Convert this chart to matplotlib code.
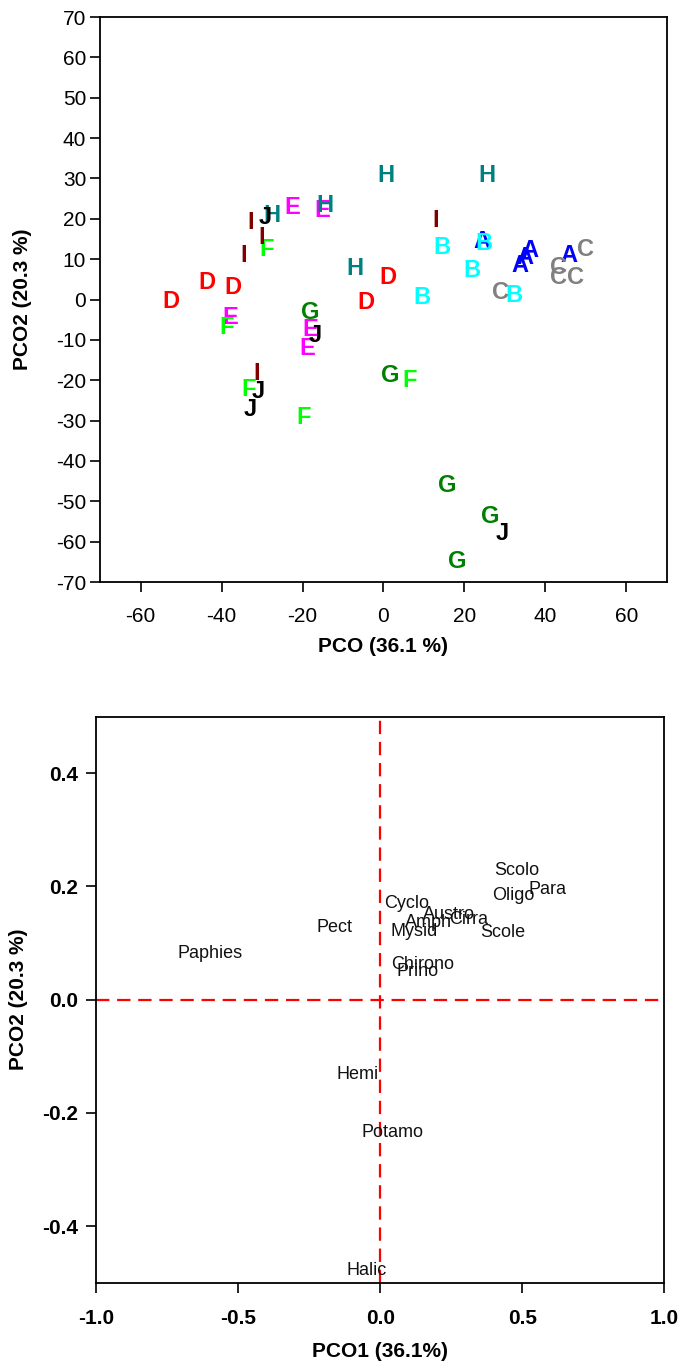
import matplotlib
matplotlib.use('Agg')
import matplotlib.pyplot as plt

plt.rcParams['font.family'] = ['Liberation Sans', 'DejaVu Sans']
plt.rcParams['axes.unicode_minus'] = False

# site scores (top panel)
site_lab = ['A', 'A', 'A', 'A', 'A',
            'B', 'B', 'B', 'B', 'B',
            'C', 'C', 'C', 'C', 'C',
            'D', 'D', 'D', 'D', 'D',
            'E', 'E', 'E', 'E', 'E',
            'F', 'F', 'F', 'F', 'F',
            'G', 'G', 'G', 'G', 'G',
            'H', 'H', 'H', 'H', 'H',
            'I', 'I', 'I', 'I', 'I',
            'J', 'J', 'J', 'J', 'J']
site_x = [24.3, 36.2, 35.0, 33.8, 45.7,
          14.4, 24.7, 21.8, 9.5, 32.3,
          49.8, 43.2, 43.2, 47.3, 28.8,
          -52.5, -43.6, -37.3, 1.2, -4.3,
          -22.6, -15.2, -37.9, -18.1, -18.9,
          -28.8, -38.7, -33.3, -19.8, 6.4,
          -18.1, 1.6, 15.8, 26.3, 18.3,
          -27.6, -14.4, 0.7, 25.5, -7.0,
          -32.7, -30.0, -34.6, 12.8, -31.4,
          -29.2, -16.9, -30.9, -32.9, 29.2]
site_y = [14.8, 12.6, 10.9, 8.9, 11.4,
          13.4, 14.5, 7.7, 1.1, 1.5,
          13.0, 8.5, 6.0, 6.0, 2.3,
          0.0, 4.8, 3.5, 6.0, -0.2,
          23.3, 22.6, -3.9, -6.8, -11.7,
          12.9, -6.4, -21.7, -28.8, -19.5,
          -2.6, -18.3, -45.5, -53.3, -64.4,
          21.3, 23.8, 31.3, 31.3, 8.1,
          19.6, 15.9, 11.4, 20.0, -17.9,
          20.8, -8.4, -22.4, -26.7, -57.4]
group_col = {'A': '#0000ff', 'B': '#00ffff', 'C': '#808080', 'D': '#ff0000',
             'E': '#ff00ff', 'F': '#00ff00', 'G': '#008000', 'H': '#008080',
             'I': '#800000', 'J': '#000000'}

# species vectors (bottom panel)
sp_name = ['Paphies', 'Pect', 'Cyclo', 'Austro', 'Amph', 'Cirra', 'Mysid',
           'Scolo', 'Para', 'Oligo', 'Scole', 'Chirono', 'Prino',
           'Hemi', 'Potamo', 'Halic']
sp_x = [-0.599, -0.161, 0.092, 0.241, 0.170, 0.311, 0.120,
        0.480, 0.587, 0.467, 0.432, 0.150, 0.131,
        -0.079, 0.042, -0.050]
sp_y = [0.081, 0.128, 0.169, 0.150, 0.136, 0.141, 0.121,
        0.229, 0.195, 0.184, 0.119, 0.062, 0.050,
        -0.132, -0.235, -0.479]

fig = plt.figure(figsize=(6.79, 13.65), dpi=100)

ax1 = fig.add_axes([0.1473, 0.5736, 0.835, 0.4139])
for lab, x, y in zip(site_lab, site_x, site_y):
    ax1.text(x, y - 0.5, lab, color=group_col[lab], fontsize=17, fontweight='bold',
             ha='center', va='center')
ax1.set_xlim(-70, 70)
ax1.set_ylim(-70, 70)
ax1.set_xticks([-60, -40, -20, 0, 20, 40, 60])
ax1.set_yticks(range(-70, 71, 10))
ax1.tick_params(direction='out', length=7, width=1.2, labelsize=15)
ax1.tick_params(axis='x', pad=11)
ax1.tick_params(axis='y', pad=3)
for s in ax1.spines.values():
    s.set_linewidth(1.3)
ax1.set_xlabel('PCO (36.1 %)', fontsize=15, fontweight='bold', labelpad=8)
ax1.set_ylabel('PCO2 (20.3 %)', fontsize=15, fontweight='bold')
ax1.yaxis.set_label_coords(-0.12, 0.5)

ax2 = fig.add_axes([0.1421, 0.0603, 0.8365, 0.4147])
ax2.axhline(0, color='red', lw=1.6, dashes=(6, 3.5))
ax2.axvline(0, color='red', lw=1.6, dashes=(6, 3.5))
for name, x, y in zip(sp_name, sp_x, sp_y):
    ax2.text(x, y, name, fontsize=13, ha='center', va='center', color='#111111')
ax2.set_xlim(-1, 1)
ax2.set_ylim(-0.5, 0.5)
ax2.set_xticks([-1.0, -0.5, 0.0, 0.5, 1.0])
ax2.set_yticks([-0.4, -0.2, 0.0, 0.2, 0.4])
ax2.xaxis.set_major_formatter(matplotlib.ticker.FormatStrFormatter('%.1f'))
ax2.yaxis.set_major_formatter(matplotlib.ticker.FormatStrFormatter('%.1f'))
ax2.tick_params(direction='out', length=7, width=1.2, labelsize=15)
ax2.tick_params(axis='x', pad=12)
ax2.tick_params(axis='y', pad=6)
for lab in ax2.get_xticklabels() + ax2.get_yticklabels():
    lab.set_fontweight('bold')
for s in ax2.spines.values():
    s.set_linewidth(1.3)
ax2.set_xlabel('PCO1 (36.1%)', fontsize=15, fontweight='bold', labelpad=10)
ax2.set_ylabel('PCO2 (20.3 %)', fontsize=15, fontweight='bold')
ax2.yaxis.set_label_coords(-0.12, 0.5)

fig.savefig('out.png', dpi=100)
